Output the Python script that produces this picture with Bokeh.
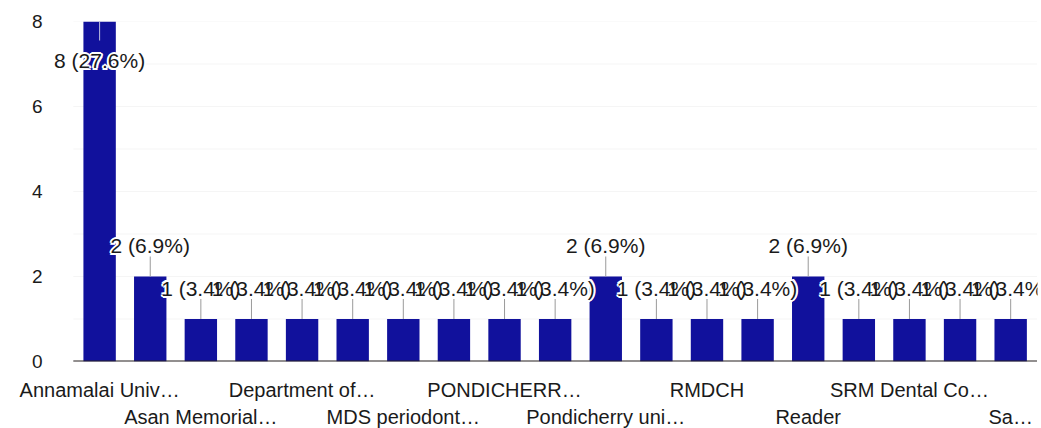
from bokeh.plotting import figure
from bokeh.models import ColumnDataSource, FixedTicker, LinearAxis, Range1d
from bokeh.core.properties import value
from bokeh.embed import file_html
from bokeh.resources import INLINE

# ---- data ----
categories = [
    "Annamalai Univ…", "", "Asan Memorial…", "", "Department of…", "",
    "MDS periodont…", "", "PONDICHERR…", "", "Pondicherry uni…", "",
    "RMDCH", "", "Reader", "", "SRM Dental Co…", "", "Sa…",
]
counts = [8, 2, 1, 1, 1, 1, 1, 1, 1, 1, 2, 1, 1, 1, 2, 1, 1, 1, 1]
y_ticks = [0, 2, 4, 6, 8]

total = sum(counts)
xs = list(range(len(counts)))
labels = [f"{c} ({100.0 * c / total:.1f}%)" for c in counts]

FONT = "Liberation Sans"
BAR = "#11119c"
TXT = "#1a1a1a"
YMAX = 8
FRAME_H = 340
FRAME_W = 989
ppu = FRAME_H / YMAX  # pixels per data unit
PAD = 0.52            # half slot used for the baseline / gridline extent
x_lo, x_hi = xs[0] - PAD, xs[-1] + PAD

# label placement: above the bar, or inside when the bar reaches the top
inside = [c >= 0.9 * YMAX for c in counts]
lab_off = [39 if ins else -31 for ins in inside]
stem_px = [19 if ins else 20 for ins in inside]
stem_end = [c - s / ppu if ins else c + s / ppu for c, s, ins in zip(counts, stem_px, inside)]
stem_col = ["#c0c0e0" if ins else "#9a9a9a" for ins in inside]

src = ColumnDataSource(dict(x=xs, top=counts, label=labels, off=lab_off,
                            y1=stem_end, sc=stem_col))

p = figure(frame_width=FRAME_W, frame_height=FRAME_H,
           x_range=Range1d(-1.01, 18.53), y_range=Range1d(0, YMAX),
           output_backend="svg", toolbar_location=None, x_axis_location=None,
           min_border_left=48, min_border_top=21, min_border_right=3,
           min_border_bottom=0)
p.outline_line_color = None
p.background_fill_color = "white"
p.border_fill_color = "white"
p.grid.visible = False

# faint gridlines over the bar area
grid_y = list(range(1, YMAX + 1))
p.segment(x0=[x_lo] * len(grid_y), y0=grid_y, x1=[x_hi] * len(grid_y), y1=grid_y,
          line_color="#f5f5f5", line_width=1)

# y axis
p.yaxis.ticker = FixedTicker(ticks=y_ticks)
p.yaxis.axis_line_color = None
p.yaxis.major_tick_line_color = None
p.yaxis.minor_tick_line_color = None
p.yaxis.major_label_standoff = 0
p.yaxis.major_label_text_font = FONT
p.yaxis.major_label_text_font_size = "19px"
p.yaxis.major_label_text_color = TXT

# bars
p.vbar(x="x", top="top", width=0.64, bottom=0, source=src,
       fill_color=BAR, line_color=None)

# baseline
p.segment(x0=[x_lo], y0=[0], x1=[x_hi], y1=[0], line_color="#262020", line_width=2)

# stems
p.segment(x0="x", y0="top", x1="x", y1="y1", source=src,
          line_color="sc", line_width=1)

# value labels: white halo, then the text
halo = [(-2, 0), (2, 0), (0, -2), (0, 2), (-1.5, -1.5), (1.5, -1.5),
        (-1.5, 1.5), (1.5, 1.5)]
for dx, dy in halo:
    hsrc = ColumnDataSource(dict(x=xs, top=counts, label=labels,
                                 off=[o + dy for o in lab_off]))
    p.text(x="x", y="top", text="label", source=hsrc, y_offset="off", x_offset=dx,
           text_align="center", text_baseline="middle",
           text_font=value(FONT), text_font_size="21px", text_color="white")
p.text(x="x", y="top", text="label", source=src, y_offset="off",
       text_align="center", text_baseline="middle",
       text_font=value(FONT), text_font_size="21px", text_color=TXT)

# two rows of category labels
row1 = [i for i in xs if categories[i] and (i // 2) % 2 == 0]
row2 = [i for i in xs if categories[i] and (i // 2) % 2 == 1]

def cat_axis(ticks, standoff):
    ax = LinearAxis(ticker=FixedTicker(ticks=ticks),
                    major_label_overrides={i: categories[i] for i in ticks})
    ax.axis_line_color = None
    ax.major_tick_line_color = None
    ax.minor_tick_line_color = None
    ax.major_label_standoff = standoff
    ax.major_label_text_font = FONT
    ax.major_label_text_font_size = "20px"
    ax.major_label_text_color = TXT
    return ax

p.add_layout(cat_axis(row1, 11), "below")
p.add_layout(cat_axis(row2, -4), "below")

open("out.html", "w").write(file_html(p, INLINE))
